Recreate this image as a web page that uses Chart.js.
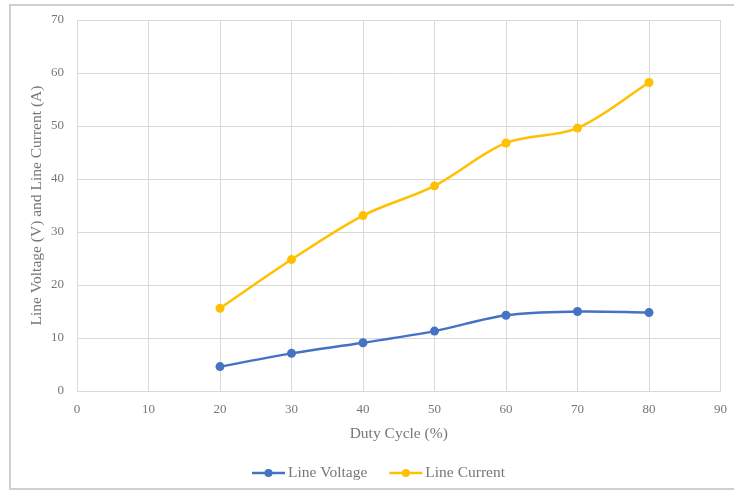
<!DOCTYPE html>
<html><head><meta charset="utf-8">
<script src="https://cdn.jsdelivr.net/npm/chart.js@4/dist/chart.umd.min.js"></script>
<style>
html,body{margin:0;padding:0;background:#fff;overflow:hidden}
#wrap{position:relative;width:734px;height:493px}
#frame{position:absolute;left:9px;top:4px;width:740px;height:486px;border:2px solid #cfcfcf;border-right:none;box-sizing:border-box;pointer-events:none}
</style></head>
<body>
<div id="wrap"><canvas id="c" width="734" height="493"></canvas><div id="frame"></div></div>
<script>
// Data
const dutyCycle   = [20, 30, 40, 50, 60, 70, 80];
const lineVoltage = [4.6, 7.1, 9.1, 11.3, 14.3, 15.0, 14.8];
const lineCurrent = [15.6, 24.8, 33.1, 38.7, 46.8, 49.6, 58.2];
const xTickValues = [0, 10, 20, 30, 40, 50, 60, 70, 80, 90];
const yTickValues = [0, 10, 20, 30, 40, 50, 60, 70];
const seriesNames = ['Line Voltage', 'Line Current'];
const xTitle = 'Duty Cycle (%)';
const yTitle = 'Line Voltage (V) and Line Current (A)';

const BLUE = '#4472C4', GOLD = '#FFC000';
const FONT = '"Liberation Serif", "Times New Roman", serif';
const TEXT = '#777777';
const GRID = '#d9d9d9';

const toPts = (xs, ys) => xs.map((x, i) => ({x, y: ys[i]}));

const legendPlugin = {
  id: 'customLegend',
  afterDraw(chart) {
    const ctx = chart.ctx;
    ctx.save();
    ctx.font = '15.5px ' + FONT;
    ctx.textBaseline = 'middle';
    const y = 473;
    let x = 252;
    chart.data.datasets.forEach((ds) => {
      ctx.strokeStyle = ds.borderColor;
      ctx.lineWidth = 2.5;
      ctx.beginPath(); ctx.moveTo(x, y); ctx.lineTo(x + 33, y); ctx.stroke();
      ctx.fillStyle = ds.borderColor;
      ctx.beginPath(); ctx.arc(x + 16.5, y, 4, 0, Math.PI * 2); ctx.fill();
      ctx.fillStyle = TEXT;
      ctx.textAlign = 'left';
      ctx.fillText(ds.label, x + 36, y);
      x += 36 + ctx.measureText(ds.label).width + 22;
    });
    ctx.restore();
  }
};

new Chart(document.getElementById('c'), {
  type: 'line',
  data: {
    datasets: [
      { label: seriesNames[0], data: toPts(dutyCycle, lineVoltage), borderColor: BLUE, backgroundColor: BLUE,
        borderWidth: 2.5, pointRadius: 4.5, pointBackgroundColor: BLUE, pointBorderWidth: 0, tension: 0.33, fill: false },
      { label: seriesNames[1], data: toPts(dutyCycle, lineCurrent), borderColor: GOLD, backgroundColor: GOLD,
        borderWidth: 2.5, pointRadius: 4.5, pointBackgroundColor: GOLD, pointBorderWidth: 0, tension: 0.33, fill: false }
    ]
  },
  options: {
    responsive: false,
    animation: false,
    layout: { padding: { left: 24, top: 20, right: 13.5, bottom: 50 } },
    plugins: { legend: { display: false }, tooltip: { enabled: false } },
    scales: {
      x: {
        type: 'linear', min: 0, max: 90,
        afterBuildTicks: (s) => { s.ticks = xTickValues.map(v => ({value: v})); },
        afterFit: (s) => { s.height = 52; s.paddingRight = 0; s.paddingLeft = 0; },
        grid: { color: GRID, lineWidth: 1, drawTicks: false },
        border: { color: GRID, width: 1 },
        ticks: { padding: 11, color: TEXT, font: { family: FONT, size: 13 }, maxRotation: 0 },
        title: { display: true, text: xTitle, color: TEXT, font: { family: FONT, size: 15.5 }, padding: { top: 0, bottom: 0 } }
      },
      y: {
        type: 'linear', min: 0, max: 70,
        afterBuildTicks: (s) => { s.ticks = yTickValues.map(v => ({value: v})); },
        afterFit: (s) => { s.width = 53; s.paddingTop = 0; s.paddingBottom = 0; },
        grid: { color: GRID, lineWidth: 1, drawTicks: false },
        border: { color: GRID, width: 1 },
        ticks: { padding: 13, color: TEXT, font: { family: FONT, size: 13 } },
        title: { display: true, text: yTitle, color: TEXT, font: { family: FONT, size: 15.5 }, padding: { top: 4, bottom: 4 } }
      }
    }
  },
  plugins: [legendPlugin]
});
</script>
</body></html>
